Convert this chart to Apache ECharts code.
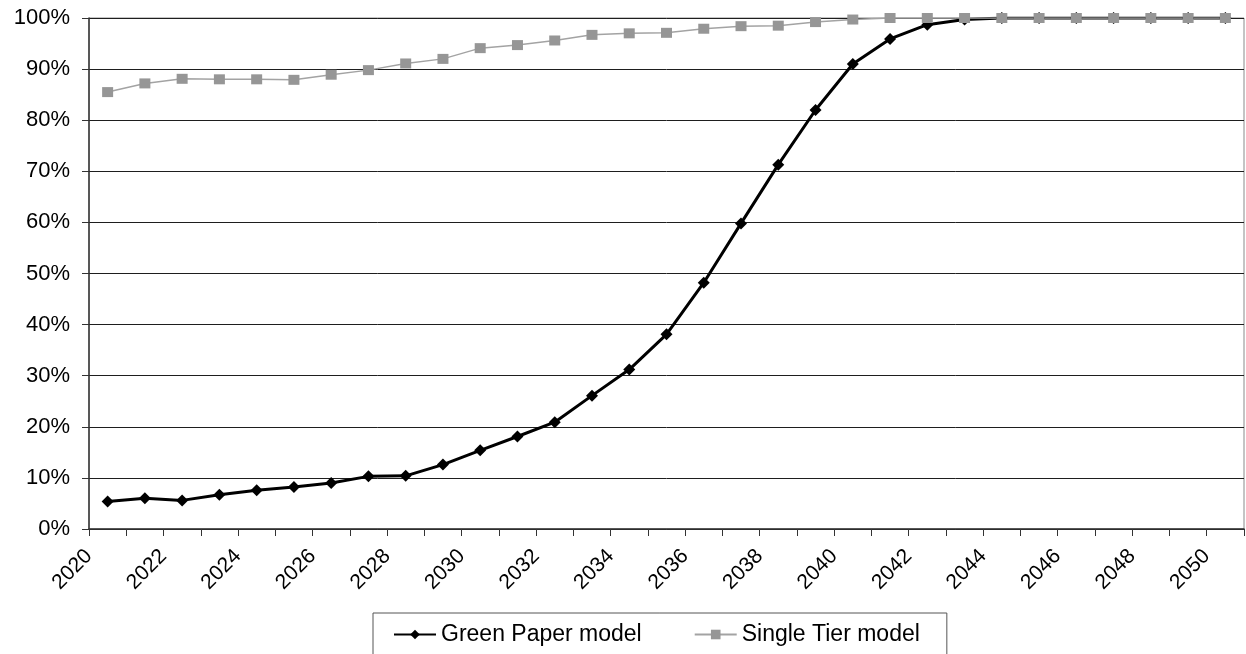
<!DOCTYPE html>
<html>
<head>
<meta charset="utf-8">
<title>Green Paper vs Single Tier model, 2020–2050</title>
<script src="https://cdn.jsdelivr.net/npm/echarts@6/dist/echarts.min.js"></script>
<style>
  html, body { margin: 0; padding: 0; background: #fff; }
  #chart { width: 1246px; height: 654px; }
</style>
</head>
<body>
<div id="chart"></div>
<script>
// Years shown on the category axis (one category per year)
const years = ['2020','2021','2022','2023','2024','2025','2026','2027','2028','2029',
  '2030','2031','2032','2033','2034','2035','2036','2037','2038','2039',
  '2040','2041','2042','2043','2044','2045','2046','2047','2048','2049','2050'];

// Year labels sit on the category boundaries, so the label axis has one extra slot
const boundaryLabels = years.concat(['']);

// Percent tick labels on the value axis
const yTicks = [0, 10, 20, 30, 40, 50, 60, 70, 80, 90, 100];

// Share (%) under each model
const greenPaper = [5.4, 6.0, 5.6, 6.7, 7.6, 8.2, 9.0, 10.3, 10.4, 12.6,
  15.4, 18.1, 20.9, 26.1, 31.2, 38.1, 48.2, 59.8, 71.3, 82.0,
  91.0, 95.9, 98.7, 99.7, 100, 100, 100, 100, 100, 100, 100];

const singleTier = [85.5, 87.2, 88.1, 88.0, 88.0, 87.9, 88.9, 89.8, 91.1, 92.0,
  94.1, 94.7, 95.6, 96.7, 97.0, 97.1, 97.9, 98.4, 98.5, 99.2,
  99.7, 100, 100, 100, 100, 100, 100, 100, 100, 100, 100];

const FONT = '"Liberation Sans", Arial, Helvetica, sans-serif';

const chart = echarts.init(document.getElementById('chart'), null, { renderer: 'canvas' });

chart.setOption({
  animation: false,
  backgroundColor: '#ffffff',
  textStyle: { fontFamily: FONT, color: '#000' },
  grid: {
    left: 89,
    right: 2,
    top: 18,
    bottom: 125,
    show: true,
    borderColor: '#8a8a8a',
    borderWidth: 1,
    backgroundColor: 'transparent',
    containLabel: false,
    outerBoundsMode: 'none'
  },
  legend: {
    left: 373,
    top: 613,
    orient: 'horizontal',
    padding: [10, 27, 40, 20],
    itemGap: 52,
    itemWidth: 42,
    itemHeight: 12,
    borderColor: '#555',
    borderWidth: 1,
    backgroundColor: '#fff',
    textStyle: { fontFamily: FONT, fontSize: 23, color: '#000' },
    data: ['Green Paper model', 'Single Tier model']
  },
  xAxis: [
    {
      type: 'category',
      data: years,
      boundaryGap: true,
      axisLine: { show: true, lineStyle: { color: '#333', width: 1.5 } },
      axisTick: { show: true, interval: 0, length: 7, inside: false, alignWithLabel: false,
        lineStyle: { color: '#333', width: 1 } },
      axisLabel: { show: false },
      splitLine: { show: false }
    },
    {
      type: 'category',
      data: boundaryLabels,
      boundaryGap: false,
      position: 'bottom',
      axisLine: { show: false },
      axisTick: { show: false },
      splitLine: { show: false },
      axisLabel: {
        show: true,
        interval: function (index) { return index % 2 === 0; },
        rotate: 45,
        margin: 24,
        fontFamily: FONT,
        fontSize: 21,
        color: '#000'
      }
    }
  ],
  yAxis: {
    type: 'value',
    min: yTicks[0],
    max: yTicks[yTicks.length - 1],
    interval: yTicks[1] - yTicks[0],
    axisLine: { show: true, lineStyle: { color: '#333', width: 1.5 } },
    axisTick: { show: true, length: 7, inside: false, lineStyle: { color: '#333', width: 1 } },
    axisLabel: {
      formatter: '{value}%',
      margin: 19,
      fontFamily: FONT,
      fontSize: 22,
      color: '#000'
    },
    splitLine: { show: true, lineStyle: { color: '#1e1e1e', width: 1 } }
  },
  series: [
    {
      name: 'Green Paper model',
      type: 'line',
      xAxisIndex: 0,
      data: greenPaper,
      symbol: 'diamond',
      symbolSize: 12,
      showAllSymbol: true,
      itemStyle: { color: '#000' },
      lineStyle: { color: '#000', width: 3 }
    },
    {
      name: 'Single Tier model',
      type: 'line',
      xAxisIndex: 0,
      data: singleTier,
      symbol: 'rect',
      symbolSize: [11, 10],
      showAllSymbol: true,
      itemStyle: { color: '#969696' },
      lineStyle: { color: '#a3a3a3', width: 1.5 }
    }
  ]
});
</script>
</body>
</html>
